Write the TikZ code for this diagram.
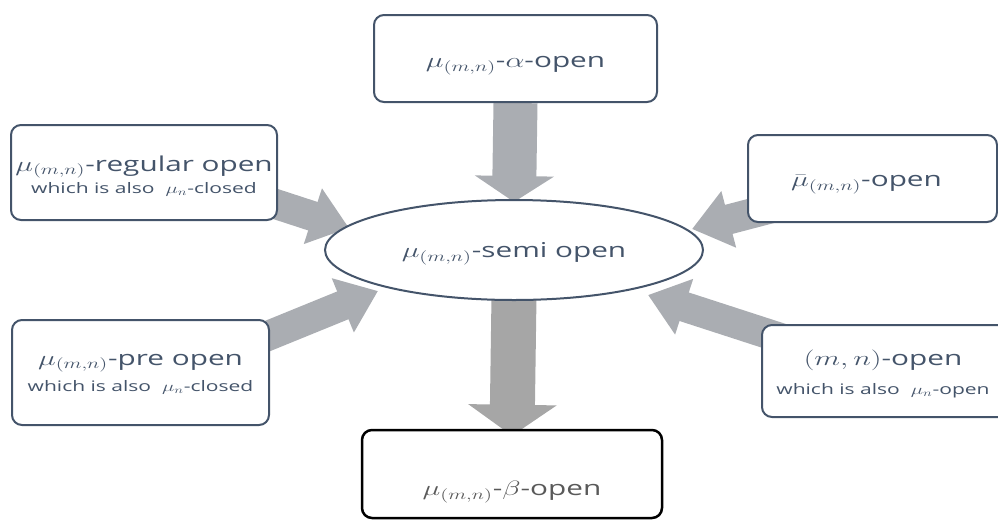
\documentclass[tikz,border=0pt]{standalone}
\usepackage{graphicx}
\usepackage{fontspec}
\setmainfont{Open Sans}
\usetikzlibrary{shapes.geometric,arrows.meta}
\definecolor{slate}{HTML}{44546A}
\definecolor{agray}{HTML}{AAADB2}
\definecolor{bgray}{HTML}{A6A6A6}
\definecolor{tgray}{HTML}{595959}
\pgfdeclarelayer{bg}
\pgfsetlayers{bg,main}
\newcommand{\bigt}[1]{\scalebox{1.45}[1]{\fontsize{20.5}{24}\selectfont #1}}
\newcommand{\smallt}[1]{\scalebox{1.45}[1]{\fontsize{14.5}{17}\selectfont #1}}
\tikzset{
  box/.style={draw=slate, line width=2pt, rounded corners=10pt, fill=white,
    inner sep=0pt},
  tlab/.style={text=slate, align=center, inner sep=0pt},
  oval/.style={ellipse, draw=slate, line width=2pt, fill=white,
    inner sep=0pt, minimum width=378pt, minimum height=100pt},
  vup/.style={draw=agray, line width=44pt, -{Triangle[length=26pt 0 0,width=78pt 0 0]}},
  vdown/.style={draw=bgray, line width=45pt, -{Triangle[length=31pt 0 0,width=87pt 0 0]}},
  slant/.style={draw=agray, line width=30pt, -{Triangle[length=38pt 0 0,width=56pt 0 0]}}
}
\begin{document}
\begin{tikzpicture}[x=1pt,y=-1pt]
\useasboundingbox (0,0) rectangle (998,520);
% nodes
\node[box, minimum width=283pt, minimum height=87pt,
  label={[tlab, yshift=-7pt]center:\bigt{$\mu_{(m,n)}$-$\alpha$-open}}] (alpha) at (515.5,58.5) {};
\node[oval,
  label={[tlab, yshift=-4pt]center:\bigt{$\mu_{(m,n)}$-semi open}}] (semi) at (514,250) {};
\node[box, draw=black, line width=2.5pt, minimum width=300pt, minimum height=88pt,
  label={[tlab, text=tgray, yshift=-18pt]center:\bigt{$\mu_{(m,n)}$-$\beta$-open}}] (beta) at (512,474) {};
\node[box, minimum width=266pt, minimum height=95pt,
  label={[tlab, yshift=-3.5pt]center:{\bigt{$\mu_{(m,n)}$-regular open}\\[3pt]\smallt{which is also \ $\mu_n$-closed}}}] (reg) at (144,172.5) {};
\node[box, minimum width=257pt, minimum height=105pt,
  label={[tlab, yshift=-1.5pt]center:{\bigt{$\mu_{(m,n)}$-pre open}\\[7pt]\smallt{which is also \ $\mu_n$-closed}}}] (pre) at (140.5,372.5) {};
\node[box, minimum width=249pt, minimum height=87pt,
  label={[tlab, xshift=-6pt, yshift=-6pt]center:\bigt{$\bar{\mu}_{(m,n)}$-open}}] (bar) at (872.5,178.5) {};
\node[box, minimum width=250pt, minimum height=92pt,
  label={[tlab, xshift=-4pt, yshift=-3pt]center:{\bigt{$(m,n)$-open}\\[12pt]\smallt{which is also \ $\mu_n$-open}}}] (mn) at (887,371) {};
% connectors
\begin{pgfonlayer}{bg}
\draw[vup] (alpha.south) -- ([yshift=-3pt]semi.north);
\draw[vdown] ([yshift=5pt]semi.south) -- ([yshift=-7pt]beta.north);
\draw[slant] ([shift={(-27,23.5)}]reg.east) -- (349,228);
\draw[slant] ([shift={(-24.5,-27.5)}]pre.east) -- (378,291);
\draw[slant] ([shift={(52,-22)}]bar.south west) -- (692,229);
\draw[slant] ([shift={(38,-74)}]mn.south west) -- (648,295);
\end{pgfonlayer}
\end{tikzpicture}
\end{document}
